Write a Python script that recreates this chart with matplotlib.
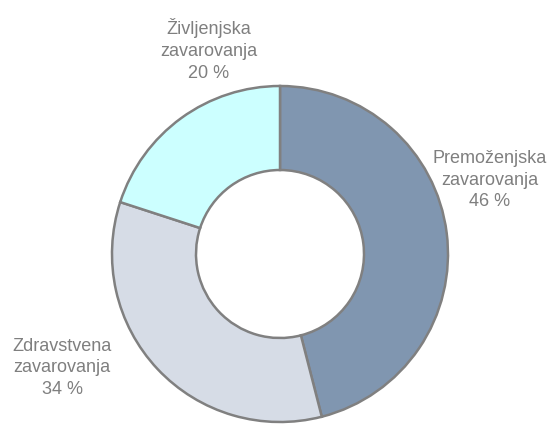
import matplotlib
matplotlib.use("Agg")
import matplotlib.pyplot as plt

labels = ["Premoženjska\nzavarovanja", "Zdravstvena\nzavarovanja", "Življenjska\nzavarovanja"]
shares = [46, 34, 20]
colors = ["#8096B0", "#D6DCE6", "#CCFFFF"]

plt.rcParams["font.family"] = ["Liberation Sans", "DejaVu Sans"]

fig = plt.figure(figsize=(5.5, 4.28), dpi=100)
ax = fig.add_axes([0, 0, 1, 1])

ax.pie(shares, colors=colors, startangle=90, counterclock=False,
       radius=168, center=(280, 174), frame=True,
       wedgeprops=dict(width=84, edgecolor="#808080", linewidth=1.8))
ax.set_xlim(0, 550)
ax.set_ylim(0, 428)
ax.set_aspect("equal")
ax.axis("off")

# label centres in pixel coords (x, y from top)
label_pos = [(490, 180), (62, 368), (209, 50)]
for lab, val, (x, y) in zip(labels, shares, label_pos):
    ax.text(x, 428 - y, f"{lab}\n{val} %", ha="center", va="center",
            fontsize=13, color="#7F7F7F", linespacing=1.38)

fig.savefig("out.png", dpi=100)
